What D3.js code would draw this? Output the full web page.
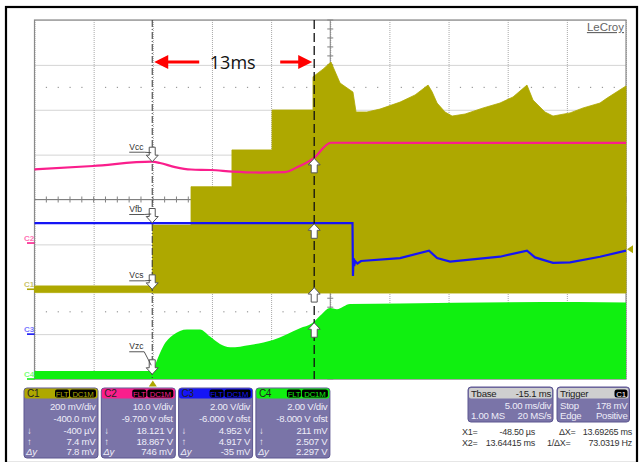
<!DOCTYPE html>
<html><head><meta charset="utf-8">
<script src="https://cdn.jsdelivr.net/npm/d3@7"></script>
<style>
body{margin:0;background:#fff;}
svg{display:block;}
text{font-family:"Liberation Sans Narrow","Liberation Sans",Arial,sans-serif;}
.pn text{letter-spacing:-0.25px;}
</style></head><body>
<svg id="c" width="642" height="462"></svg>
<script>
// ---------------- DATA ----------------
const timeDomain = [-10, 40];            // ms (5.00 ms/div, 10 div)
const channels = ["C1", "C2", "C3", "C4"];
const voltsPerDiv = [0.2, 10, 2, 2];
const offsets = [-0.4, -9.7, -6, -8];
const channelColors = ["#aea800", "#fa1e8c", "#1515f5", "#10f010"];
const markerLabelColors = ["#c9c46a", "#ff6fb4", "#7777ff", "#77ff77"];

// C1 (Vcs) envelope, ms / V
const c1Time  = [-10, -0.05, 0, 3.23, 3.23, 6.69, 6.69, 10.08, 10.08, 13.54, 13.54, 14.39, 15.06, 15.83, 16.67, 16.92, 17.18, 18.10, 19.2, 20.9, 22.17, 23.27, 23.61, 24.03, 24.7, 25.3, 26.4, 27.92, 29.35, 30.45, 31.63, 32.14, 33.15, 33.83, 35.27, 36.37, 37.8, 38.4, 40];
const c1Upper = [0.015, 0.015, 0.286, 0.286, 0.457, 0.457, 0.621, 0.621, 0.799, 0.799, 0.947, 0.981, 1.013, 0.919, 0.888, 0.879, 0.790, 0.790, 0.803, 0.834, 0.866, 0.910, 0.880, 0.830, 0.790, 0.772, 0.781, 0.808, 0.830, 0.857, 0.910, 0.843, 0.790, 0.772, 0.786, 0.808, 0.830, 0.852, 0.906];
const c1Lower = [-0.015, -0.015, -0.017, -0.017, -0.017, -0.017, -0.017, -0.017, -0.017, -0.017, -0.017, -0.017, -0.017, -0.017, -0.017, -0.017, -0.017, -0.017, -0.017, -0.017, -0.017, -0.017, -0.017, -0.017, -0.017, -0.017, -0.017, -0.017, -0.017, -0.017, -0.017, -0.017, -0.017, -0.017, -0.017, -0.017, -0.017, -0.017, -0.017];

// C2 (Vcc)
const c2Time  = [-10, -5.05, -0.07, 0.61, 1.88, 3.23, 4.92, 6.78, 9.07, 11.18, 12.19, 13.58, 15.06, 27, 40];
const c2Volts = [16.42, 17.16, 18.12, 17.83, 16.93, 16.38, 16.27, 15.93, 15.71, 15.82, 16.87, 18.87, 22.35, 22.3, 22.3];

// C3 (Vfb)
const c3Time  = [-10, 16.88, 16.92, 16.97, 17.02, 17.1, 17.3, 17.6, 20.9, 23.35, 24.03, 25.13, 29.35, 31.63, 32.31, 33.83, 35.27, 37.8, 40];
const c3Volts = [4.95, 4.95, 2.59, 3.39, 3.03, 3.26, 3.15, 3.26, 3.39, 3.72, 3.39, 3.23, 3.45, 3.72, 3.42, 3.18, 3.20, 3.45, 3.72];

// C4 (Vzc)
const c4Time  = [-10, -0.05, 0.36, 0.86, 1.71, 2.89, 3.99, 4.84, 5.68, 6.53, 8.22, 10.16, 12.44, 13.46, 14.3, 14.98, 15.57, 16.67, 20.9, 35.86, 40];
const c4Volts = [0.36, 0.36, 0.85, 1.44, 1.96, 2.21, 2.21, 1.89, 1.56, 1.41, 1.52, 1.74, 2.26, 2.48, 2.9, 3.16, 3.11, 3.34, 3.37, 3.43, 3.41];

// cursors
const cursorTimes = [-0.0485, 13.64415];
const cursorLabels = ["Vcs", "Vcc", "Vfb", "Vzc"];
const x1Values = [-0.0004, 18.121, 4.952, 0.211];
const x2Values = [0.0074, 18.867, 4.917, 2.507];
const triggerLevel = 0.178;
const annotationText = "13ms";

// readout panels
const panelScale  = ["200 mV/div", "10.0 V/div", "2.00 V/div", "2.00 V/div"];
const panelOffset = ["-400.0 mV", "-9.700 V ofst", "-6.000 V ofst", "-8.000 V ofst"];
const panelX1     = ["-400 µV", "18.121 V", "4.952 V", "211 mV"];
const panelX2     = ["7.4 mV", "18.867 V", "4.917 V", "2.507 V"];
const panelDy     = ["7.8 mV", "746 mV", "-35 mV", "2.297 V"];
const tbaseRows   = [["Tbase", "-15.1 ms"], ["", "5.00 ms/div"], ["1.00 MS", "20 MS/s"]];
const triggerRows = [["Trigger", "C1"], ["Stop", "178 mV"], ["Edge", "Positive"]];
const cursorReadout = [["X1=", "-48.50 µs", "ΔX=", "13.69265 ms"], ["X2=", "13.64415 ms", "1/ΔX=", "73.0319 Hz"]];

// ---------------- DRAW ----------------
const svg = d3.select("#c");
const G = {left: 34.5, right: 626, top: 20, bottom: 379};
const x = d3.scaleLinear().domain(timeDomain).range([G.left, G.right]);
const divY = d3.scaleLinear().domain([-4, 4]).range([G.bottom, G.top]);
const yS = channels.map((c, i) => d3.scaleLinear()
  .domain([-4 * voltsPerDiv[i] - offsets[i], 4 * voltsPerDiv[i] - offsets[i]])
  .range([G.bottom, G.top]));

// outer frame
svg.append("rect").attr("x", 6).attr("y", 7).attr("width", 631).attr("height", 456)
  .attr("fill", "none").attr("stroke", "#000").attr("stroke-width", 2.2);

// grid
const gx = svg.append("g").attr("transform", `translate(0,${G.bottom})`)
  .call(d3.axisBottom(x).tickValues(d3.range(-10, 40.01, 5)).tickSize(-(G.bottom - G.top)).tickFormat(""));
gx.select(".domain").remove();
gx.selectAll(".tick line").attr("stroke", "#a8a8a8").attr("stroke-dasharray", "1,1");
const gy = svg.append("g").attr("transform", `translate(${G.left},0)`)
  .call(d3.axisLeft(divY).tickValues(d3.range(-4, 4.01, 1)).tickSize(-(G.right - G.left)).tickFormat(""));
gy.select(".domain").remove();
gy.selectAll(".tick line").attr("stroke", "#a8a8a8").attr("stroke-dasharray", "1,1");

// sparse dotted rows
[2.5, -2.5].forEach(d => {
  svg.append("g").selectAll("rect").data(d3.range(-9, 40, 1).filter(t => t % 5 !== 0)).join("rect")
    .attr("x", t => x(t) - 0.5).attr("y", divY(d) - 0.5).attr("width", 1.2).attr("height", 1.2).attr("fill", "#999");
});

// center axes with minor ticks
svg.append("line").attr("x1", G.left).attr("x2", G.right).attr("y1", divY(0)).attr("y2", divY(0)).attr("stroke", "#808080");
svg.append("line").attr("x1", x(15)).attr("x2", x(15)).attr("y1", G.top).attr("y2", G.bottom).attr("stroke", "#808080");
svg.append("g").selectAll("line").data(d3.range(-10, 40.01, 1)).join("line")
  .attr("x1", t => x(t)).attr("x2", t => x(t)).attr("y1", divY(0) - 3).attr("y2", divY(0) + 3).attr("stroke", "#808080");
svg.append("g").selectAll("line").data(d3.range(-4, 4.01, 0.2)).join("line")
  .attr("x1", x(15) - 3).attr("x2", x(15) + 3).attr("y1", d => divY(d)).attr("y2", d => divY(d)).attr("stroke", "#808080");

// border
svg.append("rect").attr("x", G.left).attr("y", G.top).attr("width", G.right - G.left).attr("height", G.bottom - G.top)
  .attr("fill", "none").attr("stroke", "#8a8a8a").attr("stroke-width", 1.2);

// LeCroy
svg.append("text").attr("x", G.right - 2).attr("y", 31).attr("text-anchor", "end")
  .attr("font-size", 11.5).attr("fill", "#666").attr("text-decoration", "underline")
  .style("font-family", "'Liberation Sans',Arial,sans-serif").text("LeCroy");

// ---- traces ----
const c4 = c4Time.map((t, i) => [t, c4Volts[i]]);
svg.append("path").datum(c4)
  .attr("d", d3.area().x(d => x(d[0])).y0(yS[3](0)).y1(d => yS[3](d[1])).curve(d3.curveMonotoneX))
  .attr("fill", channelColors[3]);

const c1 = c1Time.map((t, i) => [t, c1Lower[i], c1Upper[i]]);
svg.append("path").datum(c1)
  .attr("d", d3.area().x(d => x(d[0])).y0(d => yS[0](d[1])).y1(d => yS[0](d[2])))
  .attr("fill", channelColors[0]).attr("stroke", channelColors[0]).attr("stroke-width", 0.8);

const c2 = c2Time.map((t, i) => [t, c2Volts[i]]);
svg.append("path").datum(c2)
  .attr("d", d3.line().x(d => x(d[0])).y(d => yS[1](d[1])).curve(d3.curveMonotoneX))
  .attr("fill", "none").attr("stroke", channelColors[1]).attr("stroke-width", 2.2);

const c3 = c3Time.map((t, i) => [t, c3Volts[i]]);
svg.append("path").datum(c3)
  .attr("d", d3.line().x(d => x(d[0])).y(d => yS[2](d[1])))
  .attr("fill", "none").attr("stroke", channelColors[2]).attr("stroke-width", 2.2);

// channel ground markers
channels.forEach((c, i) => {
  const gy0 = yS[i](0);
  svg.append("line").attr("x1", 27).attr("x2", G.left).attr("y1", gy0).attr("y2", gy0)
    .attr("stroke", channelColors[i]).attr("stroke-width", 1.6);
  svg.append("text").attr("x", 24).attr("y", gy0 - 2.5).attr("font-size", 8).attr("font-weight", "bold")
    .attr("fill", markerLabelColors[i]).text(c);
});

// trigger markers
svg.append("path").attr("d", `M${x(0)},${G.bottom + 1.5} l4,6 l-8,0 Z`).attr("fill", channelColors[0]);
svg.append("path").attr("d", `M${G.right + 1},${yS[0](triggerLevel)} l6,-4 l0,8 Z`).attr("fill", channelColors[0]);

// cursors
svg.append("line").attr("x1", x(cursorTimes[0])).attr("x2", x(cursorTimes[0])).attr("y1", G.top).attr("y2", G.bottom)
  .attr("stroke", "#333").attr("stroke-width", 1).attr("stroke-dasharray", "7,2,1,2");
svg.append("line").attr("x1", x(cursorTimes[1])).attr("x2", x(cursorTimes[1])).attr("y1", G.top).attr("y2", G.bottom)
  .attr("stroke", "#111").attr("stroke-width", 1.3).attr("stroke-dasharray", "9,4");

function blockArrow(cx, tipY, dir) { // dir 1 = pointing down, -1 = up
  const s = dir;
  return `M${cx},${tipY} l6,${-s * 6.5} l-3,0 l0,${-s * 8} l-6,0 l0,${s * 8} l-3,0 Z`;
}
const labelDy = [-11, -12, -11, -25];
channels.forEach((c, i) => {
  const xa = x(cursorTimes[0]), ya = yS[i](x1Values[i]);
  svg.append("path").attr("d", blockArrow(xa, ya, 1)).attr("fill", "#fff").attr("stroke", "#555").attr("stroke-width", 1);
  const ly = ya + labelDy[i];
  svg.append("text").attr("x", xa - 23).attr("y", ly).attr("font-size", 8.5).attr("fill", "#333")
    .style("font-family", "'Liberation Sans',Arial,sans-serif").text(cursorLabels[i]);
  svg.append("line").attr("x1", xa - 23).attr("x2", xa - 8).attr("y1", ly + 2.5).attr("y2", ly + 2.5).attr("stroke", "#444").attr("stroke-width", 0.9);
  svg.append("line").attr("x1", xa - 8).attr("x2", xa - 1).attr("y1", ly + 2.5).attr("y2", ya - 9).attr("stroke", "#444").attr("stroke-width", 0.9);
  const xb = x(cursorTimes[1]), yb = yS[i](x2Values[i]);
  svg.append("path").attr("d", blockArrow(xb, yb, -1)).attr("fill", "#fff").attr("stroke", "#555").attr("stroke-width", 1);
});

// 13ms annotation
const ay = 62;
svg.append("path").attr("d", `M${x(cursorTimes[0]) + 2},${ay} l14,-7 l0,5.5 l31,0 l0,3 l-31,0 l0,5.5 Z`).attr("fill", "#f00");
svg.append("path").attr("d", `M${x(cursorTimes[1]) - 2},${ay} l-14,-7 l0,5.5 l-18,0 l0,3 l18,0 l0,5.5 Z`).attr("fill", "#f00");
svg.append("text").attr("x", (x(cursorTimes[0]) + x(cursorTimes[1])) / 2 - 0.5).attr("y", ay + 6.5).attr("text-anchor", "middle")
  .attr("font-size", 18).attr("fill", "#111").style("font-family", "'Open Sans','Liberation Sans',sans-serif").text(annotationText);

// ---- readout panels ----
const bodyFill = "#7a74a8", bodyStroke = "#5c5690", bodyText = "#eeedf8";
const panelW = 74, panelStep = 77.3, panelX0 = 24, panelY = 388, panelH = 70;
const rowY = [410, 422, 433.5, 444.5, 454.5];
channels.forEach((c, i) => {
  const px = panelX0 + i * panelStep;
  const g = svg.append("g").attr("class", "pn").attr("font-size", 9.6);
  g.append("rect").attr("x", px).attr("y", panelY).attr("width", panelW).attr("height", panelH).attr("rx", 3)
    .attr("fill", bodyFill).attr("stroke", bodyStroke);
  g.append("rect").attr("x", px + 0.5).attr("y", panelY + 0.5).attr("width", panelW - 1).attr("height", 10)
    .attr("rx", 2).attr("fill", channelColors[i]);
  g.append("text").attr("x", px + 3).attr("y", panelY + 9).attr("fill", "#222").attr("font-size", 10).text(c);
  const bx2 = px + panelW - 2;
  g.append("rect").attr("x", bx2 - 26).attr("y", panelY + 1.5).attr("width", 26).attr("height", 8).attr("rx", 2).attr("fill", "#000");
  g.append("rect").attr("x", bx2 - 41).attr("y", panelY + 1.5).attr("width", 14).attr("height", 8).attr("rx", 2).attr("fill", "#000");
  g.append("text").attr("x", bx2 - 13).attr("y", panelY + 8.6).attr("text-anchor", "middle").attr("font-size", 7.8).attr("fill", channelColors[i]).text("DC1M");
  g.append("text").attr("x", bx2 - 34).attr("y", panelY + 8.6).attr("text-anchor", "middle").attr("font-size", 7.8).attr("fill", channelColors[i]).text("FLT");
  const vals = [panelScale[i], panelOffset[i], panelX1[i], panelX2[i], panelDy[i]];
  vals.forEach((v, r) => {
    g.append("text").attr("x", px + panelW - 2.5).attr("y", rowY[r]).attr("text-anchor", "end").attr("fill", bodyText).text(v);
  });
  g.append("text").attr("x", px + 3).attr("y", rowY[2]).attr("fill", bodyText).text("↓");
  g.append("text").attr("x", px + 3).attr("y", rowY[3]).attr("fill", bodyText).text("↑");
  g.append("text").attr("x", px + 2).attr("y", rowY[4]).attr("fill", bodyText).attr("font-style", "italic").text("Δy");
});

function infoPanel(px, pw, rows, badge) {
  const g = svg.append("g").attr("class", "pn").attr("font-size", 9.6);
  g.append("rect").attr("x", px).attr("y", 387).attr("width", pw).attr("height", 35).attr("rx", 3)
    .attr("fill", bodyFill).attr("stroke", bodyStroke);
  g.append("rect").attr("x", px + 1).attr("y", 388).attr("width", pw - 2).attr("height", 10.5).attr("rx", 2).attr("fill", "#cfcfcf");
  const ry = [396.5, 408.5, 419];
  rows.forEach((r, k) => {
    const col = k === 0 ? "#222" : bodyText;
    if (r[0]) g.append("text").attr("x", px + 3).attr("y", ry[k]).attr("fill", col).text(r[0]);
    if (k === 0 && badge) {
      g.append("rect").attr("x", px + pw - 15).attr("y", 389.5).attr("width", 13).attr("height", 8).attr("rx", 2.5).attr("fill", "#000");
      g.append("text").attr("x", px + pw - 8.5).attr("y", 396.5).attr("text-anchor", "middle").attr("font-size", 7.8).attr("fill", "#fff").text(r[1]);
    } else {
      g.append("text").attr("x", px + pw - 2).attr("y", ry[k]).attr("text-anchor", "end").attr("fill", col).text(r[1]);
    }
  });
}
infoPanel(468, 85, tbaseRows, false);
infoPanel(557, 72.5, triggerRows, true);

const cr = svg.append("g").attr("class", "pn").attr("font-size", 9).attr("fill", "#333");
cursorReadout.forEach((r, k) => {
  const yy = 434.5 + k * 11;
  cr.append("text").attr("x", 462).attr("y", yy).text(r[0]);
  cr.append("text").attr("x", 535).attr("y", yy).attr("text-anchor", "end").text(r[1]);
  cr.append("text").attr("x", k === 0 ? 559 : 547).attr("y", yy).text(r[2]);
  cr.append("text").attr("x", 632).attr("y", yy).attr("text-anchor", "end").text(r[3]);
});
</script>
</body></html>
